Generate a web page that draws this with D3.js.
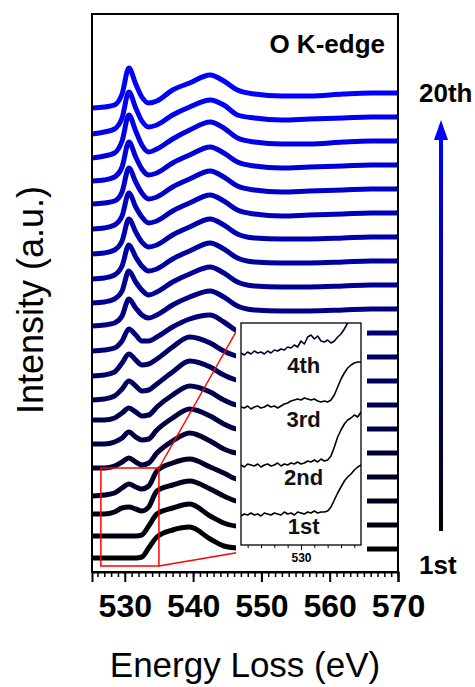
<!DOCTYPE html>
<html lang="en">
<head>
  <meta charset="UTF-8">
  <title>O K-edge EELS</title>
  <script src="https://cdn.jsdelivr.net/npm/d3@7"></script>
  <style>
    body { margin: 0; background: #fff; }
    text { font-family: Arial, "Liberation Sans", sans-serif; }
  </style>
</head>
<body>
  <svg id="chart" width="475" height="687"></svg>
  <script>
    // energy grid of the main spectra (eV)
    let energies = [525.2, 527, 528.5, 529.6, 530.6, 531.6, 532.5, 533.5, 534.7, 537, 539.5, 542.5, 544.5, 546.5, 549, 553, 557, 562, 566, 570];
    // intensity of each scan (a.u.), 1st ... 20th, before stacking
    let scan1  = [-9, -9, -9, -9, -9, -9, -8, 1, 12, 19, 22, 10, 3, 1, 0, -1, -1, 0, 0, 0];
    let scan2  = [-11, -11, -11, -11, -11, -11, -10, -1, 11, 17, 21, 9, 2, -1, 0, -1, -1, 0, 0, 0];
    let scan3  = [-13, -13, -11, -7, -6, -8, -10, -6, 10, 16, 20, 12, 5, 0, 0, -1, -1, 0, 0, 0];
    let scan4  = [-19, -18, -16, -11, -7, -10, -12, -9, 6, 14, 18, 10, 4, -2, -1, -1, -1, 0, 0, 0];
    let scan5  = [-15, -15, -13, -9, -5, -9, -12, -10, 0, 12, 20, 12, 4, 0, 0, -1, -1, 0, 0, 0];
    let scan6  = [-15, -15, -13, -9, -3, -8, -11, -10, -1, 11, 20, 13, 5, 0, 0, -1, -1, 0, 0, 0];
    let scan7  = [-15, -15, -13, -8, -3, -7, -11, -10, -2, 10, 19, 13, 5, 0, 0, -1, -1, 0, 0, 0];
    let scan8  = [-19, -18, -15, -8, 0, -5, -10, -9, -3, 9, 20, 14, 6, 1, 0, -1, -1, 0, 0, 0];
    let scan9  = [-19, -18, -15, -6, 3, -3, -8, -7, -2, 10, 20, 14, 6, 1, 0, -1, -1, 0, 0, 0];
    let scan10 = [-18, -17, -15, -8, 4, -2, -8, -8, -4, 6, 14, 18, 11, 2, -1, -2, -2, -1, 0, 0];
    let scan11 = [-17, -16, -14, -7, 10, 1, -6, -9, -6, 4, 12, 18, 12, 3, -1, -2, -2, -1, 0, 0];
    let scan12 = [-18, -17, -14, -6, 14, 3, -5, -10, -7, 3, 11, 18, 12, 3, -1, -2, -2, -1, 0, 0];
    let scan13 = [-18, -17, -14, -5, 16, 4, -5, -10, -8, 2, 10, 18, 12, 3, -1, -2, -2, -1, 0, 0];
    let scan14 = [-17, -16, -13, -4, 18, 5, -5, -10, -8, 2, 10, 18, 12, 3, -1, -2, -2, -1, 0, 0];
    let scan15 = [-16, -15, -12, -3, 20, 6, -4, -10, -8, 2, 10, 18, 12, 3, -1, -3, -2, -1, 0, 0];
    let scan16 = [-15, -14, -12, -3, 21, 7, -4, -10, -8, 2, 10, 18, 12, 3, -1, -3, -2, -1, 0, 0];
    let scan17 = [-16, -15, -12, -2, 23, 8, -4, -10, -8, 2, 10, 18, 12, 3, -1, -3, -2, -1, 0, 0];
    let scan18 = [-17, -15, -12, 0, 26, 10, -4, -11, -8, 2, 11, 19, 13, 3, -1, -3, -3, -1, 0, 0];
    let scan19 = [-17, -15, -12, -1, 25, 9, -4, -10, -8, 2, 10, 17, 12, 2, -1, -3, -2, -1, 0, 0];
    let scan20 = [-15, -14, -12, -1, 25, 9, -4, -10, -8, 3, 10, 18, 12, 3, -1, -3, -3, -1, 0, 0];
    let scans = [scan1, scan2, scan3, scan4, scan5, scan6, scan7, scan8, scan9, scan10,
                 scan11, scan12, scan13, scan14, scan15, scan16, scan17, scan18, scan19, scan20];
    let offsetStep = 24;   // vertical stacking between scans (a.u.)

    let xTicks = [530, 540, 550, 560, 570];

    // zoomed inset: first four scans around the pre-edge
    let insetEnergies = d3.range(525.5, 534.51, 0.25);
    let inset1 = [-2,0,-1,1,-1,0,-2,1,0,-1,1,0,-1,2,0,1,-1,2,1,0,2,1,3,1,2,2,3,7,14,21,27,33,37,40,44,47,49];
    let inset2 = [0,-2,1,0,-1,1,-2,0,1,-1,0,2,-1,1,0,2,1,3,1,2,4,3,5,3,6,4,5,9,18,28,35,41,45,47,50,48,53];
    let inset3 = [0,-1,1,-2,0,1,-1,0,2,0,1,-1,1,3,4,6,7,8,7,9,8,7,8,6,5,6,5,7,12,20,28,34,39,42,44,45,45];
    let inset4 = [0,-2,1,-1,2,0,1,-1,2,0,3,2,4,3,6,5,8,6,12,9,16,18,14,17,12,11,13,10,12,16,19,24,30,36,43,50,56];
    let insetScans = [inset1, inset2, inset3, inset4];
    let insetOffsets = [0, 49, 107, 161];
    let insetLabels = ['1st', '2nd', '3rd', '4th'];
    let insetBox = {e0: 526.5, e1: 535, i0: -17, i1: 81};

    const svg = d3.select('#chart');
    const pL = 92, pR = 398, pT = 14, pB = 572;

    let x = d3.scaleLinear().domain([525.2, 570]).range([pL, pR]);
    let y = d3.scaleLinear().domain([-23, 535]).range([pB, pT]);
    let color = d3.scaleLinear().domain([0, scans.length - 1]).range(['#000000', '#0000ff']);

    let defs = svg.append('defs');
    defs.append('clipPath').attr('id', 'plotClip')
      .append('rect').attr('x', pL).attr('y', pT).attr('width', pR - pL).attr('height', pB - pT);

    let line = d3.line()
      .x((d, i) => x(energies[i]))
      .y(d => y(d))
      .curve(d3.curveMonotoneX);

    svg.append('g').attr('clip-path', 'url(#plotClip)')
      .selectAll('path')
      .data(scans)
      .join('path')
      .attr('d', (s, k) => line(s.map(v => v + k * offsetStep)))
      .attr('fill', 'none')
      .attr('stroke', (s, k) => color(k))
      .attr('stroke-width', 5)
      .attr('stroke-linejoin', 'round');

    // inset geometry
    let iL = 241, iR = 361, iT = 323, iB = 545;
    let ix = d3.scaleLinear().domain([525.5, 534.5]).range([iL, iR]);
    let iy = d3.scaleLinear().domain([-31, 191]).range([iB, iT]);

    // red zoom box and connecting lines
    svg.append('line')
      .attr('x1', x(insetBox.e1)).attr('y1', y(insetBox.i1))
      .attr('x2', iL).attr('y2', iT)
      .attr('stroke', '#ff0000').attr('stroke-width', 1.5);
    svg.append('line')
      .attr('x1', x(insetBox.e1)).attr('y1', y(insetBox.i0))
      .attr('x2', iL).attr('y2', iB + 7)
      .attr('stroke', '#ff0000').attr('stroke-width', 1.5);
    svg.append('rect')
      .attr('x', x(insetBox.e0)).attr('y', y(insetBox.i1))
      .attr('width', x(insetBox.e1) - x(insetBox.e0))
      .attr('height', y(insetBox.i0) - y(insetBox.i1))
      .attr('fill', 'none').attr('stroke', '#ff0000').attr('stroke-width', 1.5);

    // inset background
    svg.append('rect')
      .attr('x', iL - 5).attr('y', iT - 5)
      .attr('width', iR - iL + 11).attr('height', pB - iT + 3)
      .attr('fill', '#fff');

    defs.append('clipPath').attr('id', 'insetClip')
      .append('rect').attr('x', iL).attr('y', iT).attr('width', iR - iL).attr('height', iB - iT);

    let iline = d3.line()
      .x((d, i) => ix(insetEnergies[i]))
      .y(d => iy(d));

    svg.append('g').attr('clip-path', 'url(#insetClip)')
      .selectAll('path')
      .data(insetScans)
      .join('path')
      .attr('d', (s, k) => iline(s.map(v => v + insetOffsets[k])))
      .attr('fill', 'none')
      .attr('stroke', (s, k) => color(k))
      .attr('stroke-width', 1.6)
      .attr('stroke-linejoin', 'round');

    svg.append('g')
      .selectAll('text')
      .data(insetLabels)
      .join('text')
      .attr('x', ix(530.2))
      .attr('y', (d, k) => iy(insetOffsets[k] - 20))
      .attr('text-anchor', 'middle')
      .attr('font-size', 22)
      .attr('font-weight', 'bold')
      .attr('fill', '#111')
      .text(d => d);

    // inset axis
    let iMinor = svg.append('g').attr('transform', `translate(0,${iB})`)
      .call(d3.axisBottom(ix).tickValues(d3.range(526, 535, 1)).tickSize(3).tickFormat(''));
    iMinor.select('.domain').remove();
    let iMajor = svg.append('g').attr('transform', `translate(0,${iB})`)
      .call(d3.axisBottom(ix).tickValues([530]).tickSize(5).tickPadding(3));
    iMajor.select('.domain').remove();
    iMajor.selectAll('text').attr('font-size', 12).attr('font-weight', 'bold').attr('fill', '#000')
      .style('font-family', 'Arial, "Liberation Sans", sans-serif');
    svg.selectAll('.tick line').attr('stroke-width', 1);

    svg.append('rect')
      .attr('x', iL).attr('y', iT)
      .attr('width', iR - iL).attr('height', iB - iT)
      .attr('fill', 'none').attr('stroke', '#000').attr('stroke-width', 1.3);

    // main frame
    svg.append('rect')
      .attr('x', pL).attr('y', pT)
      .attr('width', pR - pL).attr('height', pB - pT)
      .attr('fill', 'none').attr('stroke', '#000').attr('stroke-width', 2);

    // main x axis
    let minor = svg.append('g').attr('transform', `translate(0,${pB})`)
      .call(d3.axisBottom(x).tickValues(d3.range(526, 571, 1)).tickSize(5).tickFormat(''));
    minor.select('.domain').remove();
    minor.selectAll('line').attr('stroke-width', 1.5);
    let major = svg.append('g').attr('transform', `translate(0,${pB})`)
      .call(d3.axisBottom(x).tickValues(xTicks).tickSize(10).tickPadding(12));
    major.select('.domain').attr('stroke-width', 2);
    major.selectAll('line').attr('stroke-width', 2);
    major.selectAll('text')
      .attr('font-size', 32).attr('font-weight', 'bold').attr('fill', '#000')
      .style('font-family', 'Arial, "Liberation Sans", sans-serif');

    // titles
    svg.append('text')
      .attr('x', (pL + pR) / 2).attr('y', 677)
      .attr('text-anchor', 'middle').attr('font-size', 35)
      .text('Energy Loss (eV)');
    svg.append('text')
      .attr('transform', `translate(43,${(pT + pB) / 2 + 7}) rotate(-90)`)
      .attr('text-anchor', 'middle').attr('font-size', 36)
      .text('Intensity (a.u.)');
    svg.append('text')
      .attr('x', 385).attr('y', 53)
      .attr('text-anchor', 'end').attr('font-size', 26).attr('font-weight', 'bold')
      .text('O K-edge');

    // scan order arrow
    let grad = defs.append('linearGradient')
      .attr('id', 'arrowGrad').attr('x1', 0).attr('y1', 1).attr('x2', 0).attr('y2', 0);
    grad.append('stop').attr('offset', '0%').attr('stop-color', '#000000');
    grad.append('stop').attr('offset', '100%').attr('stop-color', '#0000ff');
    let ax = 441, aTop = 120, aBot = 531;
    svg.append('rect')
      .attr('x', ax - 2).attr('y', aTop + 18).attr('width', 4).attr('height', aBot - aTop - 18)
      .attr('fill', 'url(#arrowGrad)');
    svg.append('path')
      .attr('d', `M${ax},${aTop} L${ax + 7},${aTop + 20} L${ax - 7},${aTop + 20} Z`)
      .attr('fill', '#0000ff');
    svg.append('text').attr('x', 419).attr('y', 102)
      .attr('font-size', 26).attr('font-weight', 'bold').text('20th');
    svg.append('text').attr('x', 419).attr('y', 574)
      .attr('font-size', 26).attr('font-weight', 'bold').text('1st');
  </script>
</body>
</html>
